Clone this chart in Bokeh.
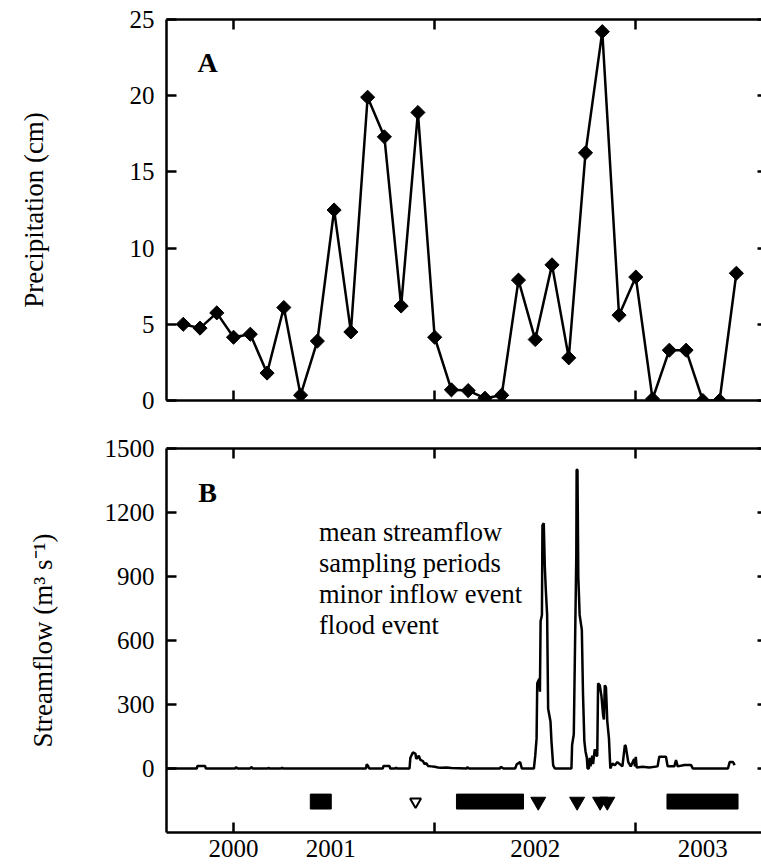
from bokeh.plotting import figure
from bokeh.models import Range1d, LinearAxis, FixedTicker, Label, Legend, LegendItem, ColumnDataSource
from bokeh.layouts import column
from bokeh.embed import file_html
from bokeh.resources import INLINE

FONT = "Liberation Serif"

# ---------------- data ----------------
# x axis: months counted from the left edge of the plot
precip_month = list(range(1, 35))
precip_cm = [5.0, 4.75, 5.75, 4.15, 4.35, 1.8, 6.1, 0.35, 3.9, 12.5, 4.5, 19.9,
             17.3, 6.2, 18.9, 4.15, 0.7, 0.65, 0.15, 0.35, 7.9, 4.0, 8.9, 2.8,
             16.25, 24.2, 5.6, 8.1, 0.1, 3.3, 3.3, 0.0, 0.0, 8.35]

flow_month = [0, 1.8, 1.85, 2.3, 2.35, 4.1, 4.15, 4.25, 5.0, 5.05, 5.15, 6.05, 6.08, 6.12,
              6.85, 6.9, 6.95, 11.9, 11.95, 12.05, 12.1, 12.9, 12.95, 13.3, 13.35, 13.65,
              13.7, 13.75, 14.5, 14.55, 14.7, 14.85, 14.9, 15.05, 15.15, 15.3, 15.4, 15.5,
              15.6, 15.8, 16.0, 16.2, 16.4, 16.7, 17.0, 17.9, 17.95, 18.05, 19.9, 19.95,
              20.1, 20.8, 20.9, 21.1, 21.2, 21.92, 22.0, 22.08, 22.12, 22.24, 22.28, 22.32,
              22.4, 22.43, 22.51, 22.57, 22.63, 22.71, 22.77, 22.91, 22.97, 23.07, 23.17,
              24.16, 24.2, 24.3, 24.45, 24.47, 24.52, 24.57, 24.65, 24.78, 24.85, 24.93,
              25.0, 25.08, 25.12, 25.2, 25.25, 25.3, 25.4, 25.45, 25.55, 25.65, 25.7, 25.75,
              25.85, 25.95, 26.05, 26.1, 26.15, 26.22, 26.3, 26.4, 26.48, 26.6, 26.75, 26.9,
              27.2, 27.35, 27.4, 27.55, 27.7, 27.9, 27.95, 28.0, 28.05, 28.4, 28.8, 29.3,
              29.4, 29.8, 29.9, 30.3, 30.4, 30.5, 30.9, 31.3, 31.4, 33.5, 33.6, 33.8, 33.9]
flow_m3s = [0, 0, 12, 12, 0, 0, 6, 0, 0, 7, 0, 0, 5, 0,
            0, 5, 0, 0, 20, 8, 0, 0, 12, 12, 0, 0,
            5, 0, 0, 50, 75, 70, 45, 60, 40, 35, 20, 25,
            12, 10, 8, 5, 3, 5, 2, 0, 6, 0, 0, 8,
            0, 0, 20, 30, 0, 0, 60, 140, 400, 420, 360, 690,
            720, 1140, 1150, 950, 840, 720, 280, 220, 125, 15, 0,
            0, 110, 160, 1000, 1400, 1400, 900, 720, 650, 350, 130,
            80, 50, 0, 0, 50, 10, 60, 20, 90, 60, 60, 400,
            390, 340, 250, 230, 390, 380, 220, 140, 0, 23, 15, 30,
            10, 110, 105, 30, 10, 45, 10, 55, 5, 8, 5, 10,
            55, 55, 10, 10, 40, 10, 16, 16, 0, 0, 30, 30, 16]

sampling_start = [8.58, 17.3, 29.86]
sampling_end = [9.83, 21.3, 34.1]
minor_event_month = [14.86]
flood_event_month = [22.18, 24.5, 25.87, 26.3]
event_row_level = -155

year_tick_pos = [4, 16, 28]
year_label_pos = [4, 9.8, 22, 32]
year_labels = ["2000", "2001", "2002", "2003"]
precip_ticks = [0, 5, 10, 15, 20, 25]
flow_ticks = [0, 300, 600, 900, 1200, 1500]

# ---------------- helpers ----------------
xr = Range1d(0, 35.5)


def blank(ticks):
    return {t: "" for t in ticks}


def left_axis(ticks, label, standoff):
    return LinearAxis(ticker=FixedTicker(ticks=ticks), axis_label=label,
                      axis_label_standoff=standoff, axis_label_text_font=FONT,
                      axis_label_text_font_size="27px", axis_label_text_font_style="normal",
                      axis_label_text_color="black",
                      major_tick_in=10, major_tick_out=0, minor_tick_in=0, minor_tick_out=0,
                      axis_line_width=2.5, major_tick_line_width=2.5,
                      major_label_text_font=FONT, major_label_text_font_size="25px",
                      major_label_text_color="black", major_label_standoff=12)


def right_axis(ticks):
    return LinearAxis(ticker=FixedTicker(ticks=ticks), axis_line_color=None,
                      major_tick_in=4, major_tick_out=0, minor_tick_in=0, minor_tick_out=0,
                      major_tick_line_width=2.5, major_label_overrides=blank(ticks),
                      major_label_text_font_size="1px", major_label_standoff=0)


def plain_x_axis():
    return LinearAxis(ticker=FixedTicker(ticks=year_tick_pos), axis_line_width=2.5,
                      major_tick_in=10, major_tick_out=0, minor_tick_in=0, minor_tick_out=0,
                      major_tick_line_width=2.5, major_label_overrides=blank(year_tick_pos),
                      major_label_text_font_size="1px", major_label_standoff=0)


def base_fig(height, yr, top, bottom):
    p = figure(width=761, height=height, x_range=xr, y_range=yr, output_backend="svg",
               toolbar_location=None, x_axis_location=None, y_axis_location=None,
               min_border_left=166, min_border_right=0, min_border_top=top,
               min_border_bottom=bottom)
    p.outline_line_color = None
    p.grid.visible = False
    p.background_fill_color = "white"
    p.border_fill_color = "white"
    return p


# ---------------- panel A ----------------
p1 = base_fig(424, Range1d(0, 25), 19, 24)
p1.add_layout(left_axis(precip_ticks, "Precipitation (cm)", 78), "left")
p1.add_layout(right_axis(precip_ticks), "right")
p1.add_layout(plain_x_axis(), "above")
p1.add_layout(plain_x_axis(), "below")

src_p = ColumnDataSource(dict(m=precip_month, v=precip_cm))
p1.line("m", "v", source=src_p, line_color="black", line_width=2.5)
p1.scatter("m", "v", source=src_p, marker="square", angle=0.7854, size=10,
           fill_color="black", line_color="black")
p1.add_layout(Label(x=41, y=338, x_units="screen", y_units="screen", text="A",
                    text_font=FONT, text_font_style="bold", text_font_size="28px",
                    text_align="center", text_baseline="middle", text_color="black"))

# ---------------- panel B ----------------
p2 = base_fig(443, Range1d(-300, 1500), 24, 35)
p2.add_layout(left_axis(flow_ticks, "Streamflow (m³ s⁻¹)", 44), "left")
p2.add_layout(right_axis(flow_ticks), "right")
p2.add_layout(plain_x_axis(), "above")
bottom_axis = LinearAxis(ticker=FixedTicker(ticks=year_label_pos, minor_ticks=year_tick_pos),
                         axis_line_width=2.5, major_tick_in=0, major_tick_out=0,
                         minor_tick_in=10, minor_tick_out=0, minor_tick_line_width=2.5,
                         major_label_overrides={k: s for k, s in zip(year_label_pos, year_labels)},
                         major_label_text_font=FONT, major_label_text_font_size="25px",
                         major_label_text_color="black", major_label_standoff=7)
p2.add_layout(bottom_axis, "below")

flow_r = p2.line(flow_month, flow_m3s, line_color="black", line_width=2.5)
bars_r = p2.hbar(y=[event_row_level] * len(sampling_start), left=sampling_start,
                 right=sampling_end, height=70, fill_color="black", line_color="black",
                 line_width=1)
minor_r = p2.scatter(minor_event_month, [event_row_level] * len(minor_event_month),
                     marker="inverted_triangle", size=11, fill_color="white",
                     line_color="black", line_width=2)
flood_r = p2.scatter(flood_event_month, [event_row_level] * len(flood_event_month),
                     marker="inverted_triangle", size=15, fill_color="black",
                     line_color="black")

p2.add_layout(Label(x=41, y=340, x_units="screen", y_units="screen", text="B",
                    text_font=FONT, text_font_style="bold", text_font_size="28px",
                    text_align="center", text_baseline="middle", text_color="black"))

legend = Legend(items=[LegendItem(label="mean streamflow", renderers=[flow_r]),
                       LegendItem(label="sampling periods", renderers=[bars_r]),
                       LegendItem(label="minor inflow event", renderers=[minor_r]),
                       LegendItem(label="flood event", renderers=[flood_r])],
                location=(153, 191), glyph_width=0, glyph_height=31, label_height=31,
                label_standoff=0, spacing=0, padding=0, margin=0,
                border_line_color=None, background_fill_alpha=0,
                label_text_font=FONT, label_text_font_size="26.5px", label_text_color="black")
p2.add_layout(legend)

layout = column(p1, p2, spacing=0)
open("out.html", "w").write(file_html(layout, INLINE))
